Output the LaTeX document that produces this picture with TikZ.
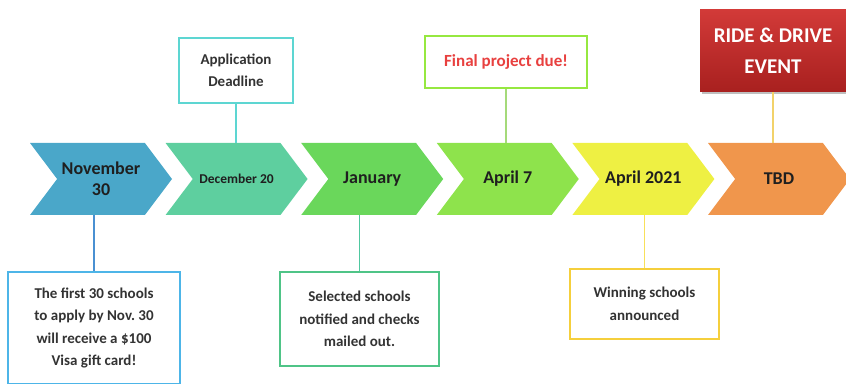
\documentclass[tikz,border=0pt]{standalone}
\usepackage{fontspec}
\setmainfont{Carlito}
\usepackage{tikz}
\usetikzlibrary{shapes,arrows,positioning,calc,shadows}

\definecolor{chevA}{HTML}{4AA7C9}
\definecolor{chevB}{HTML}{5ECF9F}
\definecolor{chevC}{HTML}{6AD75B}
\definecolor{chevD}{HTML}{8EE34C}
\definecolor{chevE}{HTML}{EEF043}
\definecolor{chevF}{HTML}{F0964C}
\definecolor{frameAppl}{HTML}{5DD6D2}
\definecolor{frameFinal}{HTML}{96E840}
\definecolor{frameFirst}{HTML}{4DB5E8}
\definecolor{frameSel}{HTML}{4FC487}
\definecolor{frameWin}{HTML}{F5CF3C}
\definecolor{linkAppl}{HTML}{5DD6D2}
\definecolor{linkFinal}{HTML}{A5DA7A}
\definecolor{linkRide}{HTML}{F2D26A}
\definecolor{linkFirst}{HTML}{4A90D2}
\definecolor{linkSel}{HTML}{4FC8A0}
\definecolor{linkWin}{HTML}{F8E05A}
\definecolor{notegray}{HTML}{333333}
\definecolor{duered}{HTML}{E8403F}
\definecolor{rideTop}{HTML}{D23A38}
\definecolor{rideBot}{HTML}{A8201F}

\begin{document}
\begin{tikzpicture}[x=1pt,y=1pt,
    chev/.style={signal, signal to=east, signal from=west, signal pointer angle=106,
        minimum width=142pt, minimum height=72pt, inner sep=0pt, align=center,
        text=black!88, font=\bfseries\fontsize{18}{21}\selectfont},
    note/.style={draw, line width=1.8pt, fill=white, align=center, inner sep=0pt,
        text=notegray, font=\bfseries\fontsize{15}{22.5}\selectfont},
    link/.style={line width=1.5pt}]
    \useasboundingbox (0,0) rectangle (846,383);

    % Timeline chevrons
    \foreach \n/\c/\t [count=\k from 0] in {nov/chevA/{November\\30},
            dec/chevB/{\fontsize{13.5}{15}\selectfont December 20},
            jan/chevC/{January}, aprA/chevD/{April 7},
            aprB/chevE/{April 2021}, tbd/chevF/{TBD}}
        \node[chev, fill=\c] (\n) at (101+\k*135.6,204) {\t};

    % Boxes above
    \node[note, draw=frameAppl, minimum width=114pt, minimum height=65pt] (appl) at (236,312.5) {Application\\Deadline};
    \node[note, draw=frameFinal, text=duered, minimum width=162pt, minimum height=52pt,
        font=\bfseries\fontsize{17}{20}\selectfont] (final) at (506,321) {Final project due!};
    \node[drop shadow, top color=rideTop, bottom color=rideBot, text=white, align=center,
        minimum width=146pt, minimum height=82pt, inner sep=0pt,
        font=\bfseries\fontsize{21}{31}\selectfont] (ride) at (773,332) {RIDE \& DRIVE\\EVENT};

    % Boxes below
    \node[note, draw=frameFirst, minimum width=172pt, minimum height=112pt] (first) at (94,55)
        {The first 30 schools\\to apply by Nov.\ 30\\will receive a \$100\\Visa gift card!};
    \node[note, draw=frameSel, minimum width=159pt, minimum height=94pt] (sel) at (359.5,64)
        {Selected schools\\notified and checks\\mailed out.};
    \node[note, draw=frameWin, minimum width=149pt, minimum height=70pt] (win) at (644.5,79)
        {Winning schools\\announced};

    % Connectors
    \draw[link, linkAppl] (appl.south) -- (appl.south |- dec.north);
    \draw[link, linkFinal] (final.south) -- (final.south |- aprA.north);
    \draw[link, linkRide] (ride.south) -- (ride.south |- tbd.north);
    \draw[link, linkFirst] (first.north) -- (first.north |- nov.south);
    \draw[link, linkSel] (sel.north) -- (sel.north |- jan.south);
    \draw[link, linkWin] (win.north) -- (win.north |- aprB.south);
\end{tikzpicture}
\end{document}
